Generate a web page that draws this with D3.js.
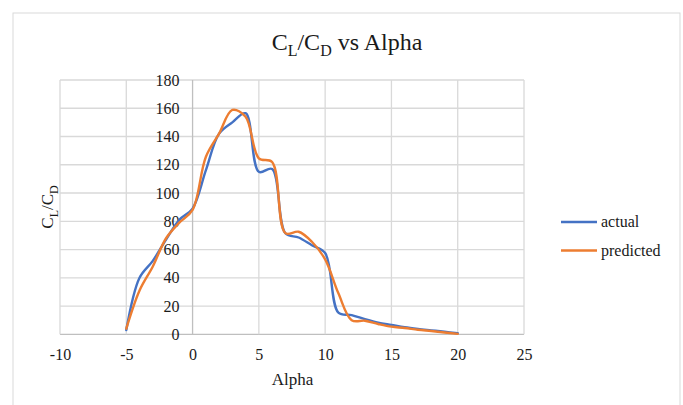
<!DOCTYPE html>
<html>
<head>
<meta charset="utf-8">
<script src="https://cdn.jsdelivr.net/npm/d3@7"></script>
<style>
  body { margin: 0; background: #fff; }
  text { font-family: "Liberation Serif", "Times New Roman", serif; fill: #1a1a1a; }
</style>
</head>
<body>
<svg id="chart"></svg>
<script>
// Lift-to-drag ratio against angle of attack
const alpha = [-5, -4, -3, -2, -1, 0, 1, 2, 3, 4, 5, 6, 7, 8, 9, 10, 11, 12, 13, 14, 15, 16, 17, 18, 19, 20];
const actual = [3, 40, 52, 67, 81, 89, 116, 142, 150, 156.5, 115, 117, 71.5, 68.5, 63, 57.5, 15.3, 13.6, 10.7, 8.2, 6.6, 5, 3.8, 2.8, 1.8, 0.7];
const predicted = [4, 31, 48, 68, 79, 88, 125.5, 142, 158.8, 154, 124.6, 122, 71.6, 72.6, 65.5, 53, 29, 10, 9.6, 7.3, 5.4, 4.5, 3.2, 2.3, 1.3, 0.3];
const xTicks = [-10, -5, 0, 5, 10, 15, 20, 25];
const yTicks = [0, 20, 40, 60, 80, 100, 120, 140, 160, 180];

const series = [
  { name: "actual", values: actual, color: "#4472C4" },
  { name: "predicted", values: predicted, color: "#ED7D31" }
];

const W = 683, H = 405;
const plot = { left: 60, right: 524, top: 80, bottom: 334.3 };

const svg = d3.select("#chart")
  .attr("width", W)
  .attr("height", H);

// chart frame
svg.append("rect")
  .attr("x", 13).attr("y", 13)
  .attr("width", 667).attr("height", 400)
  .attr("fill", "#fff")
  .attr("stroke", "#d9d9d9")
  .attr("stroke-width", 1);

const x = d3.scaleLinear().domain([-10, 25]).range([plot.left, plot.right]);
const y = d3.scaleLinear().domain([0, 180]).range([plot.bottom, plot.top]);

// gridlines
svg.append("g")
  .selectAll("line.h")
  .data(yTicks)
  .join("line")
  .attr("x1", plot.left).attr("x2", plot.right)
  .attr("y1", d => y(d)).attr("y2", d => y(d))
  .attr("stroke", d => d === 0 ? "#bfbfbf" : "#d9d9d9")
  .attr("stroke-width", 1.3);

svg.append("g")
  .selectAll("line.v")
  .data(xTicks)
  .join("line")
  .attr("x1", d => x(d)).attr("x2", d => x(d))
  .attr("y1", plot.top).attr("y2", plot.bottom)
  .attr("stroke", d => d === 0 ? "#bfbfbf" : "#d9d9d9")
  .attr("stroke-width", 1.3);

// axes (labels only; plain hyphen for negatives)
const xAxis = svg.append("g")
  .attr("transform", `translate(0,${plot.bottom})`)
  .call(d3.axisBottom(x).tickValues(xTicks).tickFormat(d => String(d)).tickSize(0).tickPadding(14));
xAxis.select(".domain").remove();
xAxis.selectAll("text")
  .style("font-family", '"Liberation Serif", serif')
  .style("font-size", "16px")
  .attr("fill", "#1a1a1a");

const yAxis = svg.append("g")
  .attr("transform", `translate(${x(0)},0)`)
  .call(d3.axisLeft(y).tickValues(yTicks).tickFormat(d => String(d)).tickSize(0).tickPadding(13));
yAxis.select(".domain").remove();
yAxis.selectAll("text")
  .style("font-family", '"Liberation Serif", serif')
  .style("font-size", "16px")
  .attr("fill", "#1a1a1a");

// series lines
const line = d3.line()
  .x((d, i) => x(alpha[i]))
  .y(d => y(d))
  .curve(d3.curveCatmullRom.alpha(0.5));

svg.append("g")
  .selectAll("path")
  .data(series)
  .join("path")
  .attr("d", d => line(d.values))
  .attr("fill", "none")
  .attr("stroke", d => d.color)
  .attr("stroke-width", 2.4)
  .attr("stroke-linejoin", "round")
  .attr("stroke-linecap", "round");

// title with subscripts
const title = svg.append("text")
  .attr("x", 347).attr("y", 50)
  .attr("text-anchor", "middle")
  .style("font-size", "24px");
title.append("tspan").text("C");
title.append("tspan").attr("dy", 6).style("font-size", "16px").text("L");
title.append("tspan").attr("dy", -6).text("/C");
title.append("tspan").attr("dy", 6).style("font-size", "16px").text("D");
title.append("tspan").attr("dy", -6).text(" vs Alpha");

// axis titles
svg.append("text")
  .attr("x", x(0) + 100).attr("y", 385)
  .attr("text-anchor", "middle")
  .style("font-size", "17px")
  .text("Alpha");

const yTitle = svg.append("text")
  .attr("transform", "translate(53,207) rotate(-90)")
  .attr("text-anchor", "middle")
  .style("font-size", "17px");
yTitle.append("tspan").text("C");
yTitle.append("tspan").attr("dy", 5).style("font-size", "12px").text("L");
yTitle.append("tspan").attr("dy", -5).text("/C");
yTitle.append("tspan").attr("dy", 5).style("font-size", "12px").text("D");

// legend
const legend = svg.append("g")
  .selectAll("g")
  .data(series)
  .join("g")
  .attr("transform", (d, i) => `translate(561,${222 + i * 28.5})`);
legend.append("line")
  .attr("x1", 0).attr("x2", 36)
  .attr("stroke", d => d.color)
  .attr("stroke-width", 2.4);
legend.append("text")
  .attr("x", 40).attr("y", 5)
  .style("font-size", "16px")
  .text(d => d.name);
</script>
</body>
</html>
